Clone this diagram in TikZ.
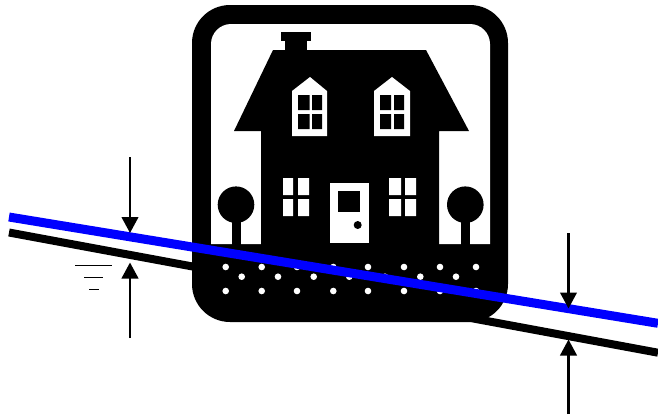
\documentclass[tikz,border=0pt]{standalone}
\usetikzlibrary{arrows.meta}
\definecolor{slope}{RGB}{0,0,255}
\tikzset{
  arrowline/.style={line width=2.6pt,-{Triangle[length=16pt,width=16.5pt]}},
  waterline/.style={line width=1.4pt}
}
\begin{document}
\begin{tikzpicture}[x=1pt,y=-1pt]
\useasboundingbox (0,0) rectangle (658,416);
\fill[white] (0,0) rectangle (658,416);
% lower line
\draw[black,line width=8pt] (9,232.5) -- (658,352.7);
% frame
\fill[black,rounded corners=38pt] (192,5) rectangle (508,322);
\fill[white] (211,244) -- (211,44) .. controls (211,33) and (220,24) .. (231,24) -- (470,24)
  .. controls (481,24) and (490,33) .. (490,44) -- (490,244) -- cycle;
% house
\fill[black] (281,32) rectangle (311,41);
\fill[black] (285,41) rectangle (307,52);
\fill[black] (273,50) -- (426,50) -- (469,131) -- (439,131) -- (439,246) -- (261,246) -- (261,131) -- (234,131) -- cycle;
% dormers
\fill[white] (292,136) -- (292,91) -- (310,77) -- (327,91) -- (327,136) -- cycle;
\fill[black] (298,95) rectangle (309.5,110) (312,95) rectangle (322,110)
             (298,114) rectangle (309.5,129) (312,114) rectangle (322,129);
\fill[white] (374,136) -- (374,91) -- (392,77) -- (410,91) -- (410,136) -- cycle;
\fill[black] (380,95) rectangle (391,110) (394,95) rectangle (404,110)
             (380,114) rectangle (391,129) (394,114) rectangle (404,129);
% lower windows
\fill[white] (283,178) rectangle (293,195) (298,178) rectangle (309,195)
             (283,199) rectangle (293,216) (298,199) rectangle (309,216);
\fill[white] (389,178) rectangle (401,195) (405,178) rectangle (416,195)
             (389,199) rectangle (401,216) (405,199) rectangle (416,216);
% door
\fill[white] (330,183) rectangle (369,243);
\fill[black] (338,191) rectangle (360,212);
\fill[black] (357.7,225) circle[radius=4];
% trees
\fill[black] (236,204.7) circle[radius=18.3];
\fill[black] (232,215) rectangle (241,246);
\fill[black] (465.3,204.7) circle[radius=18.3];
\fill[black] (461,215) rectangle (469.5,246);
% gravel
\foreach \x in {225.7,261.7,297,333.3,368,404,440,476} {
  \fill[white] (\x,267) circle[radius=3.3];
  \fill[white] (\x,291) circle[radius=3.3];
}
\foreach \x in {241.7,278,313.7,349.3,385,420.3,456} {
  \fill[white] (\x,276.7) circle[radius=3.3];
}
% upper line
\draw[slope,line width=9pt] (9,217) -- (658,323.3);
% measure arrows
\coordinate (lt) at (130,157);
\coordinate (lta) at (130,233);
\coordinate (lb) at (130,338);
\coordinate (lba) at (130,262.5);
\coordinate (rt) at (568.5,233);
\coordinate (rta) at (568.5,308.5);
\coordinate (rb) at (568.5,414);
\coordinate (rba) at (568.5,339.5);
\draw[arrowline] (lt) -- (lta);
\draw[arrowline] (lb) -- (lba);
\draw[arrowline] (rt) -- (rta);
\draw[arrowline] (rb) -- (rba);
% water level
\draw[waterline] (75,265.7) -- (112,265.7);
\draw[waterline] (84,277.3) -- (103,277.3);
\draw[waterline] (89,289.6) -- (99,289.6);
\end{tikzpicture}
\end{document}
